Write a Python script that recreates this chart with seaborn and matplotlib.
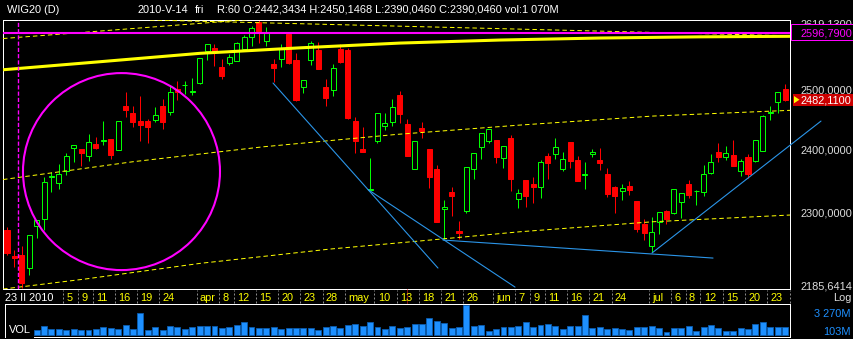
import numpy as np
import pandas as pd
import matplotlib
matplotlib.use("Agg")
import matplotlib.pyplot as plt
import matplotlib.transforms as mtransforms
from matplotlib.patches import Circle, Rectangle, Polygon
import seaborn as sns

sns.set_theme(style="dark", rc={"figure.facecolor": "black", "axes.facecolor": "black",
                                "savefig.facecolor": "black", "axes.edgecolor": "white",
                                "axes.grid": False})
plt.rcParams["font.family"] = ["Liberation Sans", "DejaVu Sans"]

# ---------------- data (WIG20 daily, 23 Feb 2010 .. 27 Jul 2010) ----------------
opens = [2273.3, 2233.7, 2235.2, 2215.2, 2279.5, 2289.8, 2357.0, 2346.2, 2366.2, 2402.3,
         2401.1, 2390.3, 2409.3, 2415.0, 2417.4, 2399.5, 2472.0, 2460.8, 2447.0, 2447.0,
         2448.7, 2472.0, 2462.5, 2500.0, 2507.0, 2495.0, 2510.2, 2566.1, 2570.8, 2538.5,
         2545.4, 2548.8, 2569.6, 2589.4, 2615.8, 2583.5, 2543.1, 2551.2, 2596.1, 2550.0,
         2503.4, 2550.0, 2567.3, 2503.4, 2498.8, 2569.0, 2567.3, 2447.0, 2401.1, 2336.4,
         2414.7, 2439.2, 2445.9, 2490.4, 2442.3434, 2369.4, 2436.0, 2401.1, 2368.9, 2305.3,
         2332.4, 2271.8, 2303.1, 2368.4, 2404.8, 2414.7, 2415.8, 2387.1, 2419.1, 2321.9,
         2351.4, 2345.1, 2339.9, 2389.8, 2392.6, 2368.4, 2412.5, 2383.4, 2360.0, 2393.1,
         2383.4, 2361.0, 2340.3, 2334.5, 2341.9, 2318.2, 2282.5, 2249.3, 2285.2, 2302.6,
         2299.1, 2316.2, 2345.1, 2333.5, 2332.0, 2363.0, 2397.1, 2388.7, 2391.5, 2366.2,
         2387.8, 2382.3, 2398.4, 2461.0, 2479.2, 2500.0]
highs = [2278.4, 2242.8, 2248.9, 2265.7, 2288.7, 2355.7, 2364.6, 2377.0, 2395.1, 2407.1,
         2402.0, 2425.6, 2420.2, 2447.0, 2418.0, 2447.5, 2496.1, 2472.0, 2489.3, 2450.4,
         2469.8, 2483.7, 2506.2, 2514.1, 2514.1, 2518.7, 2553.5, 2577.5, 2577.7, 2551.7,
         2560.4, 2581.7, 2594.0, 2609.8, 2619.13, 2606.9, 2551.7, 2577.7, 2598.7, 2561.6,
         2516.0, 2583.5, 2581.7, 2517.5, 2543.1, 2577.2, 2570.3, 2454.2, 2437.6, 2387.1,
         2460.5, 2459.8, 2483.7, 2496.6, 2450.1468, 2414.5, 2445.9, 2402.0, 2375.3, 2319.8,
         2339.9, 2287.2, 2372.0, 2394.5, 2427.0, 2433.7, 2416.0, 2406.5, 2424.0, 2337.2,
         2352.0, 2356.6, 2383.4, 2394.2, 2418.6, 2395.8, 2413.0, 2389.8, 2379.7, 2401.1,
         2402.3, 2370.0, 2341.9, 2345.1, 2349.8, 2318.5, 2289.8, 2293.8, 2301.0, 2304.2,
         2337.5, 2330.7, 2351.4, 2335.6, 2375.3, 2393.1, 2410.4, 2406.0, 2415.8, 2385.0,
         2393.1, 2415.6, 2457.0, 2472.0, 2495.3, 2509.0]
lows = [2235.2, 2217.6, 2185.6414, 2205.2, 2261.1, 2273.3, 2332.9, 2336.7, 2359.3, 2380.7,
        2373.7, 2382.3, 2400.6, 2407.7, 2385.0, 2399.0, 2453.2, 2437.6, 2414.2, 2411.4,
        2445.9, 2433.9, 2457.6, 2482.0, 2491.6, 2490.4, 2509.0, 2550.5, 2540.2, 2517.5,
        2541.9, 2548.0, 2566.1, 2574.8, 2578.9, 2574.8, 2512.4, 2538.5, 2544.0, 2481.0,
        2494.3, 2541.4, 2534.0, 2472.0, 2489.2, 2544.4, 2451.0, 2395.1, 2396.5, 2335.6,
        2410.4, 2432.2, 2438.7, 2443.2, 2390.0460, 2369.0, 2419.6, 2338.3, 2285.5, 2258.0,
        2295.4, 2259.1, 2300.0, 2353.0, 2385.0, 2411.4, 2379.1, 2371.0, 2334.5, 2306.8,
        2309.3, 2314.6, 2323.8, 2353.0, 2384.5, 2366.2, 2371.0, 2350.0, 2337.2, 2388.7,
        2367.3, 2325.0, 2300.0, 2319.8, 2327.7, 2270.7, 2258.0, 2240.2, 2267.2, 2282.5,
        2298.8, 2292.3, 2323.2, 2312.0, 2326.6, 2361.0, 2380.9, 2383.4, 2374.0, 2358.2,
        2354.1, 2380.7, 2398.0, 2448.7, 2460.8, 2480.8]
closes = [2238.7, 2231.5, 2193.4, 2265.7, 2288.7, 2347.8, 2358.0, 2360.5, 2389.8, 2407.1,
          2394.2, 2412.1, 2403.2, 2415.6, 2391.5, 2447.0, 2465.3, 2445.9, 2440.4, 2437.6,
          2456.5, 2445.9, 2496.1, 2495.9, 2508.0, 2496.5, 2552.9, 2577.2, 2564.4, 2523.1,
          2554.7, 2578.9, 2589.4, 2605.7, 2599.9, 2596.9, 2535.7, 2570.3, 2545.4, 2482.0,
          2515.3, 2578.9, 2534.5, 2485.9, 2535.7, 2547.1, 2451.5, 2414.7, 2396.8, 2337.2,
          2459.8, 2443.2, 2469.8, 2458.6, 2390.0460, 2414.2, 2431.0, 2356.6, 2286.1, 2308.9,
          2326.6, 2268.3, 2371.6, 2394.2, 2426.8, 2433.4, 2388.7, 2406.0, 2353.0, 2330.4,
          2326.6, 2340.8, 2379.7, 2378.1, 2403.9, 2384.5, 2382.3, 2350.3, 2361.0, 2396.8,
          2379.1, 2329.4, 2326.6, 2338.3, 2335.6, 2274.8, 2268.3, 2269.8, 2300.6, 2289.8,
          2337.2, 2330.4, 2327.7, 2334.5, 2360.5, 2379.7, 2388.7, 2394.2, 2374.2, 2381.8,
          2360.5, 2415.3, 2455.3, 2462.0, 2494.9, 2482.11]
volumes = [900, 1000, 1100, 900, 485, 936, 564, 564, 485, 564,
           485, 485, 598, 823, 677, 598, 1049, 598, 2369, 451,
           790, 451, 902, 869, 564, 790, 902, 902, 902, 711,
           823, 1094, 1387, 823, 677, 677, 823, 564, 677, 756,
           756, 711, 451, 823, 902, 677, 1049, 1162, 902, 1387,
           790, 564, 902, 677, 790, 1162, 1162, 1805, 1500, 1275,
           677, 823, 3270, 936, 1015, 372, 564, 823, 823, 902,
           1387, 823, 1094, 1162, 902, 564, 902, 936, 2177, 677,
           823, 564, 677, 564, 451, 823, 790, 936, 677, 226,
           677, 677, 902, 372, 823, 1015, 677, 372, 372, 677,
           564, 1162, 1387, 823, 823, 823]
sessions = np.arange(len(opens))

tick_pos = [0, 8, 10, 12, 15, 18, 21, 26, 29, 31, 34, 37, 40, 43, 46, 50, 53, 56, 59, 62,
            66, 69, 71, 73, 76, 79, 82, 87, 90, 92, 94, 97, 100, 103]
tick_labels = ["23 II 2010", "5", "9", "11", "16", "19", "24", "apr", "8", "12", "15", "20",
               "23", "28", "may", "10", "13", "18", "21", "26", "jun", "7", "9", "11", "16",
               "21", "24", "jul", "6", "8", "12", "15", "20", "23"]

price_levels = [2500, 2400, 2300]
price_labels = ["2500,0000", "2400,0000", "2300,0000"]
price_max, price_min = 2619.13, 2185.6414
last_close = 2482.11
h_level = 2596.79
cursor_session = 54

# drawn studies
trend_idx = [-0.54, 12.55, 26.05, 39.54, 53.04, 66.53, 80.03, 93.52, 105.67]
trend_val = [2533.3, 2547.1, 2561.6, 2571.1, 2579.4, 2584.7, 2588.2, 2590.3, 2591.2]
mid_idx = [-0.54, 17.0, 34.55, 52.63, 69.23, 87.18, 105.67]
mid_val = [2352.2, 2380.7, 2404.8, 2425.1, 2440.4, 2455.3, 2464.8]
low_idx = [-0.54, 10.53, 26.05, 43.59, 57.09, 69.23, 87.18, 105.67]
low_val = [2184.5, 2199.3, 2222.7, 2244.3, 2258.0, 2270.7, 2286.1, 2296.5]
upA_idx = [-0.54, 33.47]
upA_val = [2587.3, 2621.5]
upB_idx = [19.30, 105.67]
upB_val = [2619.9, 2592.1]
blue_lines = [([35.90, 58.16], [2510.7, 2215.7]),
              ([48.72, 68.56], [2336.4, 2187.4]),
              ([58.84, 95.28], [2258.0, 2230.7])]
blue_up_idx = [87.04, 109.85]
blue_up_val = [2238.3, 2447.0]
vline_idx = 1.48
circle_idx, circle_val, circle_r_px = 15.45, 2364.9, 98.5

# ---------------- layout ----------------
W, H = 854, 339
FS = 7.9
PX = 0.72  # one pixel in points
GREEN, RED, YEL, MAG, BLUE = "#00FF00", "#FF0000", "#FFFF00", "#FF00FF", "#2B95E8"

fig = plt.figure(figsize=(W / 100, H / 100), dpi=100)
fig.patch.set_facecolor("black")


def add_px_axes(x0, y0, x1, y1):
    return fig.add_axes([x0 / W, 1 - y1 / H, (x1 - x0) / W, (y1 - y0) / H])


def fx(px):
    return px / W


def fy(py):
    return 1 - py / H


ax = add_px_axes(3, 19.5, 790, 288.5)
band = add_px_axes(3, 288.5, 790, 304)
axv = add_px_axes(5, 304, 790, 337)

SP, X0 = 7.41, 7.0
xlim_main = ((3 - X0) / SP, (790 - X0) / SP)
xlim_vol = ((5 - X0) / SP, (790 - X0) / SP)

# ---------------- candles ----------------
o = np.array(opens); c = np.array(closes); hi = np.array(highs); lo = np.array(lows)
up = c >= o
blo = np.minimum(o, c); bhi = np.maximum(o, c)
ax.set_yscale("log")
ax.vlines(sessions[up], lo[up], hi[up], colors=GREEN, lw=PX, zorder=2)
ax.vlines(sessions[~up], lo[~up], hi[~up], colors=RED, lw=PX, zorder=2)
ax.bar(sessions[up], (bhi - blo)[up], bottom=blo[up], width=0.68, facecolor="black",
       edgecolor=GREEN, lw=PX, zorder=3)
ax.bar(sessions[~up], (bhi - blo)[~up], bottom=blo[~up], width=0.68, facecolor=RED,
       edgecolor=RED, lw=PX, zorder=3)

# ---------------- studies ----------------
dash = (0, (4.5, 3))
ax.plot(trend_idx, trend_val, color=YEL, lw=2.2, zorder=4, solid_capstyle="butt")
ax.plot(mid_idx, mid_val, color=YEL, lw=PX, ls=dash, zorder=4)
ax.plot(low_idx, low_val, color=YEL, lw=PX, ls=dash, zorder=4)
ax.plot(upA_idx, upA_val, color=YEL, lw=PX, ls=dash, zorder=4)
ax.plot(upB_idx, upB_val, color=YEL, lw=PX, ls=dash, zorder=4)
for bx, by in blue_lines:
    ax.plot(bx, by, color=BLUE, lw=0.8, zorder=4)
ax.plot(blue_up_idx, blue_up_val, color=BLUE, lw=0.8, zorder=4, clip_on=False)
ax.axhline(h_level, color=MAG, lw=1.5, zorder=5)
ax.axvline(vline_idx, color=MAG, lw=1.0, ls=(0, (3, 1.5)), zorder=5)
circ_tr = fig.dpi_scale_trans + mtransforms.ScaledTranslation(circle_idx, circle_val, ax.transData)
ax.add_patch(Circle((0, 0), circle_r_px / 100, transform=circ_tr, fill=False,
                    ec=MAG, lw=1.5, zorder=6))

ax.set_xlim(*xlim_main)
ax.set_ylim(2185.3, 2620.8)
ax.yaxis.set_major_locator(matplotlib.ticker.NullLocator())
ax.yaxis.set_minor_locator(matplotlib.ticker.NullLocator())
ax.set_xticks([])
for s in ax.spines.values():
    s.set_color("white"); s.set_linewidth(PX); s.set_visible(True)

# price labels on the right
ytr = ax.get_yaxis_transform()
LBL = "#DDDDDD"
for v, s in zip(price_levels, price_labels):
    ax.annotate(s, xy=(1, v), xycoords=ytr, xytext=(10.7, -4), textcoords="offset pixels",
                va="baseline", ha="left", color=LBL, fontsize=FS, annotation_clip=False)
ax.annotate("2619,1300", xy=(1, price_max), xycoords=ytr, xytext=(10.7, -6.6),
            textcoords="offset pixels", va="baseline", ha="left", color=LBL, fontsize=FS,
            annotation_clip=False)
ax.annotate("2185,6414", xy=(1, price_min), xycoords=ytr, xytext=(10.7, -1.3),
            textcoords="offset pixels", va="baseline", ha="left", color=LBL, fontsize=FS,
            annotation_clip=False)

# magenta level box
fig.add_artist(Rectangle((fx(791), fy(40)), 62 / W, 15.5 / H, transform=fig.transFigure,
                         fc="black", ec=MAG, lw=PX, zorder=10))
fig.text(fx(800.7), fy(36.7), "2596,7900", color=MAG, fontsize=FS, va="baseline", zorder=11)
# last price box
fig.add_artist(Rectangle((fx(793.3), fy(105.5)), 59.5 / W, 11.5 / H, transform=fig.transFigure,
                         fc="#CC0000", ec="none", zorder=10))
fig.add_artist(Polygon([[fx(794), fy(96)], [fx(794), fy(103.3)], [fx(799.5), fy(99.7)]],
                       closed=True, transform=fig.transFigure, fc=YEL, ec="none", zorder=11))
fig.text(fx(800.7), fy(103.4), f"{last_close:.4f}".replace(".", ","), color="white",
         fontsize=FS, va="baseline", zorder=11)

# ---------------- date band ----------------
band.axis("off")
band.set_xlim(*xlim_main)
band.set_ylim(0, 1)
btr = mtransforms.blended_transform_factory(band.transData, band.transAxes)
base_y = (304 - 300.7) / 15.5
for p, s in zip(tick_pos, tick_labels):
    if p == 0:
        band.text(xlim_main[0] + 0.27, base_y, s, transform=btr, color="white", fontsize=FS,
                  va="baseline", ha="left")
    else:
        band.text(p + 0.03, base_y, s, transform=btr, color=YEL, fontsize=FS,
                  va="baseline", ha="left")
        band.plot([p - 0.42, p - 0.42], [0.05, 0.92], transform=btr, color="#8A8A8A",
                  lw=PX, ls=(0, (2, 2)))
band.plot([xlim_main[1] + 0.05] * 2, [0.05, 0.92], transform=btr, color="#8A8A8A",
          lw=PX, ls=(0, (2, 2)), clip_on=False)
band.plot([cursor_session] * 2, [0.0, 1.0], transform=btr, color="#FF2020", lw=PX,
          ls=(0, (1, 1)))

# ---------------- volume ----------------
vdf = pd.DataFrame({"session": sessions, "volume": volumes})
sns.barplot(data=vdf, x="session", y="volume", native_scale=True, color="#1E90FF",
            saturation=1, edgecolor="#0A5CB0", linewidth=0.6, width=0.8, errorbar=None,
            ax=axv, zorder=2)
axv.set_xlim(*xlim_vol)
kpx = 29.3 / 3270.0
axv.set_ylim(-(337 - 334.5) / kpx, (334.5 - 304) / kpx)
axv.set_xticks([]); axv.set_yticks([])
axv.set_xlabel(""); axv.set_ylabel("")
for s in axv.spines.values():
    s.set_color("white"); s.set_linewidth(PX); s.set_visible(True)
fig.add_artist(Rectangle((fx(6.5), fy(339)), 27.5 / W, 21 / H, transform=fig.transFigure,
                         fc="black", ec="none", zorder=10))
fig.text(fx(9), fy(333.3), "VOL", color="white", fontsize=FS, va="baseline", zorder=11)

# right-side small labels
fig.text(fx(852), fy(300.7), "Log", color=LBL, fontsize=FS, va="baseline", ha="right")
fig.text(fx(851), fy(317.3), "3 270M", color="#1E90FF", fontsize=FS, va="baseline", ha="right")
fig.text(fx(851), fy(335), "103M", color="#1E90FF", fontsize=FS, va="baseline", ha="right")

# ---------------- header ----------------
fig.text(fx(7), fy(13), "WIG20 (D)", color="white", fontsize=FS, va="baseline")
fig.text(fx(138), fy(13), "2010-V-14", color="white", fontsize=FS, va="baseline")
fig.text(fx(195), fy(13), "fri", color="white", fontsize=FS, va="baseline")
fig.text(fx(217), fy(13),
         "R:60 O:2442,3434 H:2450,1468 L:2390,0460 C:2390,0460 vol:1 070M",
         color="white", fontsize=FS, va="baseline")

fig.savefig("out.png", dpi=100, facecolor="black")
